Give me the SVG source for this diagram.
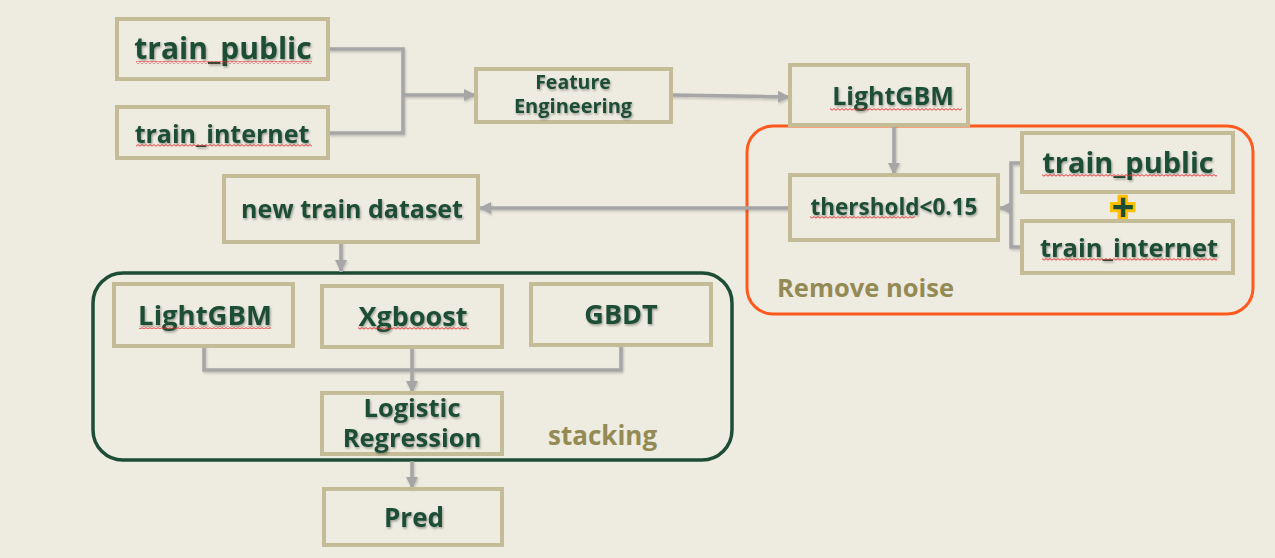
<svg xmlns="http://www.w3.org/2000/svg" width="1275" height="558" viewBox="0 0 1275 558">
<defs>
<style>
.box{fill:none;stroke:#C4BC96;stroke-width:4}
.t{font-family:"Open Sans","Noto Sans","DejaVu Sans",sans-serif;font-weight:700;fill:#1E4D36;text-anchor:middle;filter:url(#sh)}
.lab{font-family:"Open Sans","Noto Sans","DejaVu Sans",sans-serif;font-weight:700;fill:#948A54}
.c{fill:none;stroke:#A6A6A6;stroke-width:3.5}
.a{marker-end:url(#ah)}
.sq{fill:url(#wave)}
</style>
<filter id="sh" x="-10%" y="-20%" width="130%" height="150%">
<feDropShadow dx="1" dy="1.5" stdDeviation="0.8" flood-color="#000" flood-opacity="0.35"/>
</filter>
<filter id="sh2" filterUnits="userSpaceOnUse" x="0" y="0" width="1275" height="558">
<feDropShadow dx="1" dy="1.5" stdDeviation="1" flood-color="#000" flood-opacity="0.2"/>
</filter>
<marker id="ah" markerUnits="userSpaceOnUse" markerWidth="12" markerHeight="12" refX="10" refY="5" orient="auto" viewBox="0 0 10 10">
<path d="M0,0 L10,5 L0,10 z" fill="#A6A6A6"/>
</marker>
<pattern id="wave" patternUnits="userSpaceOnUse" width="4" height="3">
<path d="M0,2.2 L2,0.6 L4,2.2" fill="none" stroke="#E8262B" stroke-width="0.9"/>
</pattern>
</defs>
<rect width="1275" height="558" fill="#EEEBE0"/>

<g id="remove-noise">
<rect x="747" y="126" width="506" height="188" rx="26" fill="none" stroke="#FF5A1E" stroke-width="3"/>
<text class="lab" x="777" y="297" font-size="25.5">Remove noise</text>
</g>
<g id="stacking">
<rect x="93" y="273" width="639" height="187" rx="30" fill="none" stroke="#1E4D36" stroke-width="3.5"/>
<text class="lab" x="548" y="445" font-size="26">stacking</text>
</g>

<g id="connectors" filter="url(#sh2)">
<path class="c" d="M328,49 H403 V133 H328"/>
<path class="c a" d="M403,95 H476"/>
<path class="c a" d="M671,95 L790,97"/>
<path class="c a" d="M894,125 V175"/>
<path class="c" d="M1022,163 H1011 V247 H1022"/>
<path class="c a" d="M1011,208 H999"/>
<path class="c a" d="M790,208 H479"/>
<path class="c a" d="M341,242 V272"/>
<path class="c" d="M204,346 V370 H621 V345"/>
<path class="c a" d="M412,347 V393"/>
<path class="c a" d="M412,461 V489"/>
</g>

<g id="train_public_1">
<rect class="box" x="117" y="19" width="211" height="60"/>
<text class="t" x="223" y="59" font-size="30">train_public</text>
<rect class="sq" x="136" y="61" width="176" height="3"/>
</g>
<g id="train_internet_1">
<rect class="box" x="117" y="107" width="211" height="51"/>
<text class="t" x="222" y="143" font-size="25">train_internet</text>
<rect class="sq" x="136" y="144" width="176" height="3"/>
</g>
<g id="feature_engineering">
<rect class="box" x="476" y="69" width="195" height="53"/>
<text class="t" x="573" y="89" font-size="19.5">Feature</text>
<text class="t" x="573" y="113" font-size="20">Engineering</text>
</g>
<g id="lightgbm_1">
<rect class="box" x="790" y="65" width="178" height="60"/>
<text class="t" x="893" y="105" font-size="25">LightGBM</text>
<rect class="sq" x="830" y="108" width="132" height="3"/>
</g>
<g id="threshold">
<rect class="box" x="790" y="175" width="208" height="65"/>
<text class="t" x="894" y="215" font-size="22.5">thershold&lt;0.15</text>
<rect class="sq" x="810" y="216" width="105" height="3"/>
</g>
<g id="train_public_2">
<rect class="box" x="1022" y="133" width="211" height="59"/>
<text class="t" x="1128" y="173" font-size="29">train_public</text>
<rect class="sq" x="1042" y="174" width="175" height="3"/>
</g>
<g id="plus">
<text x="1123" y="221" font-family="'Open Sans','DejaVu Sans',sans-serif" font-weight="700" font-size="40" text-anchor="middle" fill="#1E4D36" stroke="#FFC000" stroke-width="6" stroke-linejoin="miter" paint-order="stroke">+</text>
</g>
<g id="train_internet_2">
<rect class="box" x="1022" y="221" width="211" height="52"/>
<text class="t" x="1129" y="257" font-size="25.5">train_internet</text>
<rect class="sq" x="1042" y="258" width="175" height="3"/>
</g>
<g id="new_train_dataset">
<rect class="box" x="224" y="176" width="254" height="66"/>
<text class="t" x="352" y="218" font-size="25">new train dataset</text>
</g>
<g id="lightgbm_2">
<rect class="box" x="114" y="284" width="179" height="62"/>
<text class="t" x="205" y="325" font-size="27.5">LightGBM</text>
<rect class="sq" x="139" y="326" width="132" height="3"/>
</g>
<g id="xgboost">
<rect class="box" x="322" y="286" width="180" height="61"/>
<text class="t" x="413" y="326" font-size="27">Xgboost</text>
<rect class="sq" x="358" y="327" width="111" height="3"/>
</g>
<g id="gbdt">
<rect class="box" x="531" y="284" width="180" height="61"/>
<text class="t" x="621" y="324" font-size="27">GBDT</text>
</g>
<g id="logistic_regression">
<rect class="box" x="322" y="393" width="180" height="61"/>
<text class="t" x="412" y="417" font-size="25.5">Logistic</text>
<text class="t" x="412" y="447" font-size="25.5">Regression</text>
</g>
<g id="pred">
<rect class="box" x="324" y="489" width="178" height="56"/>
<text class="t" x="414" y="527" font-size="26">Pred</text>
</g>
</svg>
